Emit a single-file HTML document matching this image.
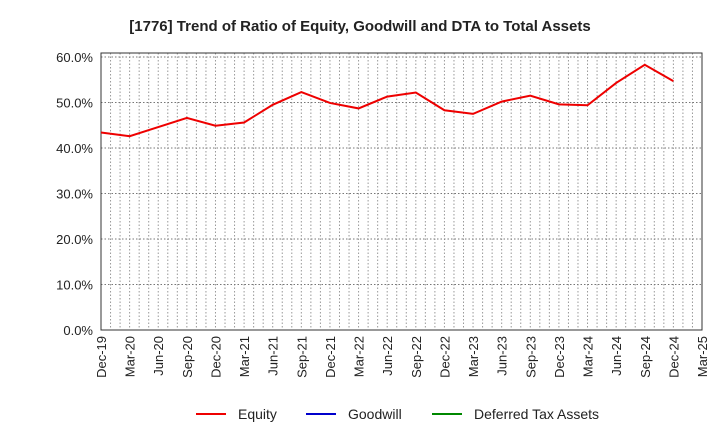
<!DOCTYPE html>
<html><head><meta charset="utf-8"><style>
body{margin:0;background:#fff;font-family:"Liberation Sans",sans-serif;}
</style></head><body>
<svg id="chart" width="720" height="440" xmlns="http://www.w3.org/2000/svg">
<text x="360" y="31" text-anchor="middle" font-size="15" font-weight="bold" fill="#222">[1776]  Trend of Ratio of Equity, Goodwill and DTA to Total Assets</text>
<g id="grid"></g><g id="axes"></g><g id="series"></g>
<g font-size="14" fill="#222">
<g><line x1="196" y1="414" x2="226" y2="414" stroke="#e00" stroke-width="2"/><text x="238" y="419">Equity</text></g>
<g><line x1="306" y1="414" x2="336" y2="414" stroke="#00c" stroke-width="2"/><text x="348" y="419">Goodwill</text></g>
<g><line x1="432" y1="414" x2="462" y2="414" stroke="#080" stroke-width="2"/><text x="474" y="419">Deferred Tax Assets</text></g>
</g>
</svg>
<script>
const categories=["Dec-19","Mar-20","Jun-20","Sep-20","Dec-20","Mar-21","Jun-21","Sep-21","Dec-21","Mar-22","Jun-22","Sep-22","Dec-22","Mar-23","Jun-23","Sep-23","Dec-23","Mar-24","Jun-24","Sep-24","Dec-24","Mar-25"];
const equity=[43.4,42.6,44.6,46.6,44.9,45.6,49.5,52.3,49.9,48.7,51.3,52.2,48.3,47.5,50.2,51.5,49.6,49.4,54.3,58.3,54.7];
const yTicks=[0,10,20,30,40,50,60];
const L=101,R=702,T=53,B=330;
const NS="http://www.w3.org/2000/svg";
const x=i=>L+(R-L)*i/(categories.length-1);
const y=v=>B-(B-57)*v/60;
function mk(t,a,p){const e=document.createElementNS(NS,t);for(const k in a)e.setAttribute(k,a[k]);p.appendChild(e);return e;}
const grid=document.getElementById('grid'),axes=document.getElementById('axes'),ser=document.getElementById('series');
for(let m=1;m<(categories.length-1)*3;m++){const xx=L+(R-L)*m/((categories.length-1)*3);
const g=mk('line',{x1:xx,x2:xx,y1:T,y2:B,stroke:'#999','stroke-dasharray':'1.5,2','stroke-width':1},grid);

}
yTicks.forEach(v=>{const g=mk('line',{x1:L,x2:R,y1:y(v),y2:y(v),stroke:'#777','stroke-dasharray':'1.5,2','stroke-width':1},grid);


const t=mk('text',{x:L-8,y:y(v)+5,'text-anchor':'end','font-size':13,fill:'#222'},axes);t.textContent=v.toFixed(1)+'%';

});
const box=mk('rect',{x:L,y:T,width:R-L,height:B-T,fill:'none',stroke:'#333','stroke-width':1},axes);


categories.forEach((c,i)=>{const t=mk('text',{transform:`translate(${x(i)+5},${B+6}) rotate(-90)`,'text-anchor':'end','font-size':13,fill:'#222'},axes);t.textContent=c;

});
const p=mk('polyline',{points:equity.map((v,i)=>x(i)+','+y(v)).join(' '),fill:'none',stroke:'#e00','stroke-width':2},ser);


</script>
</body></html>
